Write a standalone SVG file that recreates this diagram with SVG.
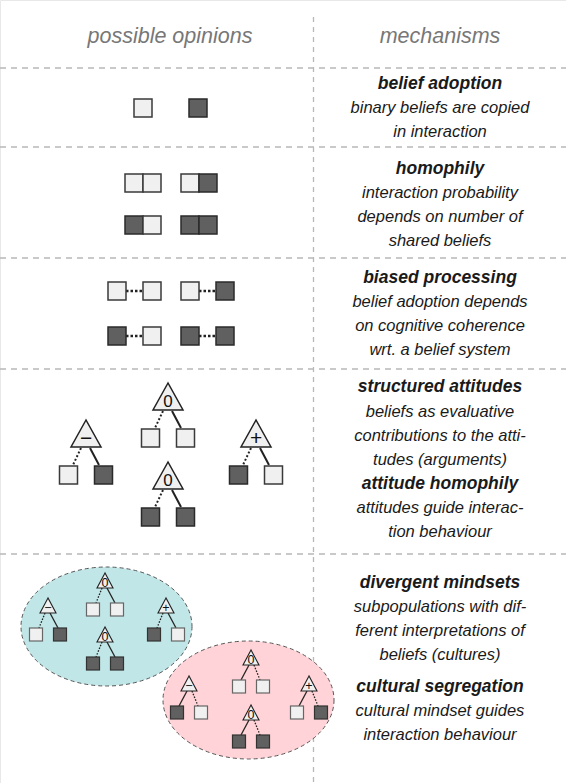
<svg xmlns="http://www.w3.org/2000/svg" width="566" height="783" viewBox="0 0 566 783">
<style>
.grid{stroke:#b8b8b8;stroke-width:1.3;fill:none}
.h{stroke-dasharray:6 5}
.v{stroke-dasharray:5 5}
.L{fill:#f0f0f0;stroke:#3a3a3a;stroke-width:1.5}
.D{fill:#606060;stroke:#2a2a2a;stroke-width:1.5}
.tri{fill:#f0f0f0;stroke:#222;stroke-width:1.5;stroke-linejoin:miter}
.stri{fill:#f0f0f0;stroke:#222;stroke-width:1.1}
.sL{fill:#f0f0f0;stroke:#666;stroke-width:1.2}
.sD{fill:#606060;stroke:#333;stroke-width:1.2}
.sol{stroke:#222;stroke-width:2;fill:none}
.dot{stroke:#222;stroke-width:2;stroke-dasharray:2 2;fill:none}
.ssol{stroke:#222;stroke-width:1.3;fill:none}
.sdot{stroke:#222;stroke-width:1.3;stroke-dasharray:1.5 1.5;fill:none}
.link{stroke:#222;stroke-width:2.5;stroke-dasharray:2.5 2;fill:none}
.hdr{font-family:"Liberation Sans",Arial,sans-serif;font-style:italic;font-size:21.5px;fill:#777;text-anchor:middle}
.ttl{font-family:"Liberation Sans",Arial,sans-serif;font-style:italic;font-weight:bold;font-size:17.5px;fill:#1a1a1a;text-anchor:middle}
.txt{font-family:"Liberation Sans",Arial,sans-serif;font-style:italic;font-size:16.5px;fill:#1a1a1a;text-anchor:middle}
.lbl{font-family:"Liberation Sans",Arial,sans-serif;font-size:17px;fill:#111;text-anchor:middle}
.sym{font-family:"Liberation Sans",Arial,sans-serif;font-size:21px;fill:#111;text-anchor:middle}
.slbl{font-family:"Liberation Sans",Arial,sans-serif;font-size:12.5px;fill:#111;text-anchor:middle}
</style>

<g id="grid">
<path d="M0.5,783 V0.5 H566" stroke="#e8e8e8" stroke-width="1" fill="none"/>
<line class="grid v" x1="313.5" y1="17" x2="313.5" y2="783"/>
<line class="grid h" x1="0" y1="68" x2="566" y2="68"/>
<line class="grid h" x1="0" y1="147" x2="566" y2="147"/>
<line class="grid h" x1="0" y1="258" x2="566" y2="258"/>
<line class="grid h" x1="0" y1="369" x2="566" y2="369"/>
<line class="grid h" x1="0" y1="554" x2="566" y2="554"/>
</g>

<g id="headers">
<text class="hdr" x="170" y="43">possible opinions</text>
<text class="hdr" x="440" y="43">mechanisms</text>
</g>

<g id="culture-a">
<ellipse cx="106.5" cy="626.5" rx="85.5" ry="59.5" fill="#c0e6e7" stroke="#555" stroke-width="1" stroke-dasharray="4 3"/>
</g>
<g id="culture-b">
<ellipse cx="248.5" cy="700" rx="85.5" ry="59" fill="#ffd3d7" stroke="#555" stroke-width="1" stroke-dasharray="4 3"/>
</g>

<g id="connectors">
<line class="link" x1="126" y1="291" x2="143" y2="291"/>
<line class="link" x1="199" y1="291" x2="216" y2="291"/>
<line class="link" x1="126" y1="336" x2="143" y2="336"/>
<line class="link" x1="199" y1="336" x2="216" y2="336"/>
<g transform="translate(168,383)"><path class="dot" d="M-5,28 L-13,45"/><path class="sol" d="M4,28 L13,45"/></g>
<g transform="translate(86,420)"><path class="dot" d="M-5,28 L-13,45"/><path class="sol" d="M4,28 L13,45"/></g>
<g transform="translate(256,420)"><path class="dot" d="M-5,28 L-13,45"/><path class="sol" d="M4,28 L13,45"/></g>
<g transform="translate(168,462)"><path class="dot" d="M-5,28 L-13,45"/><path class="sol" d="M4,28 L13,45"/></g>
<g transform="translate(105,573)"><path class="sdot" d="M-3,15 L-9,30"/><path class="ssol" d="M2,15 L10,30"/></g>
<g transform="translate(48,598)"><path class="sdot" d="M-3,15 L-9,30"/><path class="ssol" d="M2,15 L10,30"/></g>
<g transform="translate(166,598)"><path class="sdot" d="M-3,15 L-9,30"/><path class="ssol" d="M2,15 L10,30"/></g>
<g transform="translate(105,627)"><path class="sdot" d="M-3,15 L-9,30"/><path class="ssol" d="M2,15 L10,30"/></g>
<g transform="translate(251,650)"><path class="ssol" d="M-2,15 L-10,30"/><path class="sdot" d="M3,15 L9,30"/></g>
<g transform="translate(189,676)"><path class="ssol" d="M-2,15 L-10,30"/><path class="sdot" d="M3,15 L9,30"/></g>
<g transform="translate(309,676)"><path class="ssol" d="M-2,15 L-10,30"/><path class="sdot" d="M3,15 L9,30"/></g>
<g transform="translate(251,705)"><path class="ssol" d="M-2,15 L-10,30"/><path class="sdot" d="M3,15 L9,30"/></g>
</g>

<g id="belief-light"><rect class="L" x="134" y="99" width="18" height="18"/></g>
<g id="belief-dark"><rect class="D" x="189" y="99" width="18" height="18"/></g>

<g id="pair-LL"><rect class="L" x="125" y="174" width="18" height="18"/><rect class="L" x="143" y="174" width="18" height="18"/></g>
<g id="pair-LD"><rect class="L" x="181" y="174" width="18" height="18"/><rect class="D" x="199" y="174" width="18" height="18"/></g>
<g id="pair-DL"><rect class="D" x="125" y="216" width="18" height="18"/><rect class="L" x="143" y="216" width="18" height="18"/></g>
<g id="pair-DD"><rect class="D" x="181" y="216" width="18" height="18"/><rect class="D" x="199" y="216" width="18" height="18"/></g>

<g id="linked-LL"><rect class="L" x="108" y="282" width="18" height="18"/><rect class="L" x="143" y="282" width="18" height="18"/></g>
<g id="linked-LD"><rect class="L" x="181" y="282" width="18" height="18"/><rect class="D" x="216" y="282" width="18" height="18"/></g>
<g id="linked-DL"><rect class="D" x="108" y="327" width="18" height="18"/><rect class="L" x="143" y="327" width="18" height="18"/></g>
<g id="linked-DD"><rect class="D" x="181" y="327" width="18" height="18"/><rect class="D" x="216" y="327" width="18" height="18"/></g>

<g id="tree-zero-top" transform="translate(168,383)">
<polygon class="tri" points="0,0 -15,27 15,27"/><text class="lbl" x="0" y="24">0</text>
<rect class="L" x="-26.5" y="46" width="18" height="18"/><rect class="L" x="8.5" y="46" width="18" height="18"/>
</g>
<g id="tree-minus" transform="translate(86,420)">
<polygon class="tri" points="0,0 -15,27 15,27"/><text class="sym" x="0" y="24.5">−</text>
<rect class="L" x="-26.5" y="46" width="18" height="18"/><rect class="D" x="8.5" y="46" width="18" height="18"/>
</g>
<g id="tree-plus" transform="translate(256,420)">
<polygon class="tri" points="0,0 -15,27 15,27"/><text class="sym" x="0" y="24.5">+</text>
<rect class="D" x="-26.5" y="46" width="18" height="18"/><rect class="L" x="8.5" y="46" width="18" height="18"/>
</g>
<g id="tree-zero-bottom" transform="translate(168,462)">
<polygon class="tri" points="0,0 -15,27 15,27"/><text class="lbl" x="0" y="24">0</text>
<rect class="D" x="-26.5" y="46" width="18" height="18"/><rect class="D" x="8.5" y="46" width="18" height="18"/>
</g>

<g id="a-zero-top" transform="translate(105,573)">
<polygon class="stri" points="0,0 -8,15 8,15"/><text class="slbl" x="0" y="14">0</text>
<rect class="sL" x="-18.5" y="30" width="13" height="13"/><rect class="sL" x="5.5" y="30" width="13" height="13"/>
</g>
<g id="a-minus" transform="translate(48,598)">
<polygon class="stri" points="0,0 -8,15 8,15"/><text class="slbl" x="0" y="14">−</text>
<rect class="sL" x="-18.5" y="30" width="13" height="13"/><rect class="sD" x="5.5" y="30" width="13" height="13"/>
</g>
<g id="a-plus" transform="translate(166,598)">
<polygon class="stri" points="0,0 -8,15 8,15"/><text class="slbl" x="0" y="14">+</text>
<rect class="sD" x="-18.5" y="30" width="13" height="13"/><rect class="sL" x="5.5" y="30" width="13" height="13"/>
</g>
<g id="a-zero-bottom" transform="translate(105,627)">
<polygon class="stri" points="0,0 -8,15 8,15"/><text class="slbl" x="0" y="14">0</text>
<rect class="sD" x="-18.5" y="30" width="13" height="13"/><rect class="sD" x="5.5" y="30" width="13" height="13"/>
</g>

<g id="b-zero-top" transform="translate(251,650)">
<polygon class="stri" points="0,0 -8,15 8,15"/><text class="slbl" x="0" y="14">0</text>
<rect class="sL" x="-18.5" y="30" width="13" height="13"/><rect class="sL" x="5.5" y="30" width="13" height="13"/>
</g>
<g id="b-minus" transform="translate(189,676)">
<polygon class="stri" points="0,0 -8,15 8,15"/><text class="slbl" x="0" y="14">−</text>
<rect class="sD" x="-18.5" y="30" width="13" height="13"/><rect class="sL" x="5.5" y="30" width="13" height="13"/>
</g>
<g id="b-plus" transform="translate(309,676)">
<polygon class="stri" points="0,0 -8,15 8,15"/><text class="slbl" x="0" y="14">+</text>
<rect class="sL" x="-18.5" y="30" width="13" height="13"/><rect class="sD" x="5.5" y="30" width="13" height="13"/>
</g>
<g id="b-zero-bottom" transform="translate(251,705)">
<polygon class="stri" points="0,0 -8,15 8,15"/><text class="slbl" x="0" y="14">0</text>
<rect class="sD" x="-18.5" y="30" width="13" height="13"/><rect class="sD" x="5.5" y="30" width="13" height="13"/>
</g>

<g id="mech-belief-adoption">
<text class="ttl" x="440" y="89">belief adoption</text>
<text class="txt" x="440" y="113">binary beliefs are copied</text>
<text class="txt" x="440" y="137">in interaction</text>
</g>
<g id="mech-homophily">
<text class="ttl" x="440" y="174">homophily</text>
<text class="txt" x="440" y="198">interaction probability</text>
<text class="txt" x="440" y="222">depends on number of</text>
<text class="txt" x="440" y="246">shared beliefs</text>
</g>
<g id="mech-biased-processing">
<text class="ttl" x="440" y="283">biased processing</text>
<text class="txt" x="440" y="307">belief adoption depends</text>
<text class="txt" x="440" y="331">on cognitive coherence</text>
<text class="txt" x="440" y="355">wrt. a belief system</text>
</g>
<g id="mech-structured-attitudes">
<text class="ttl" x="440" y="392">structured attitudes</text>
<text class="txt" x="440" y="417">beliefs as evaluative</text>
<text class="txt" x="440" y="441">contributions to the atti-</text>
<text class="txt" x="440" y="465">tudes (arguments)</text>
</g>
<g id="mech-attitude-homophily">
<text class="ttl" x="440" y="489">attitude homophily</text>
<text class="txt" x="440" y="513">attitudes guide interac-</text>
<text class="txt" x="440" y="537">tion behaviour</text>
</g>
<g id="mech-divergent-mindsets">
<text class="ttl" x="440" y="588">divergent mindsets</text>
<text class="txt" x="440" y="612">subpopulations with dif-</text>
<text class="txt" x="440" y="636">ferent interpretations of</text>
<text class="txt" x="440" y="660">beliefs (cultures)</text>
</g>
<g id="mech-cultural-segregation">
<text class="ttl" x="440" y="692">cultural segregation</text>
<text class="txt" x="440" y="716">cultural mindset guides</text>
<text class="txt" x="440" y="740">interaction behaviour</text>
</g>
</svg>
